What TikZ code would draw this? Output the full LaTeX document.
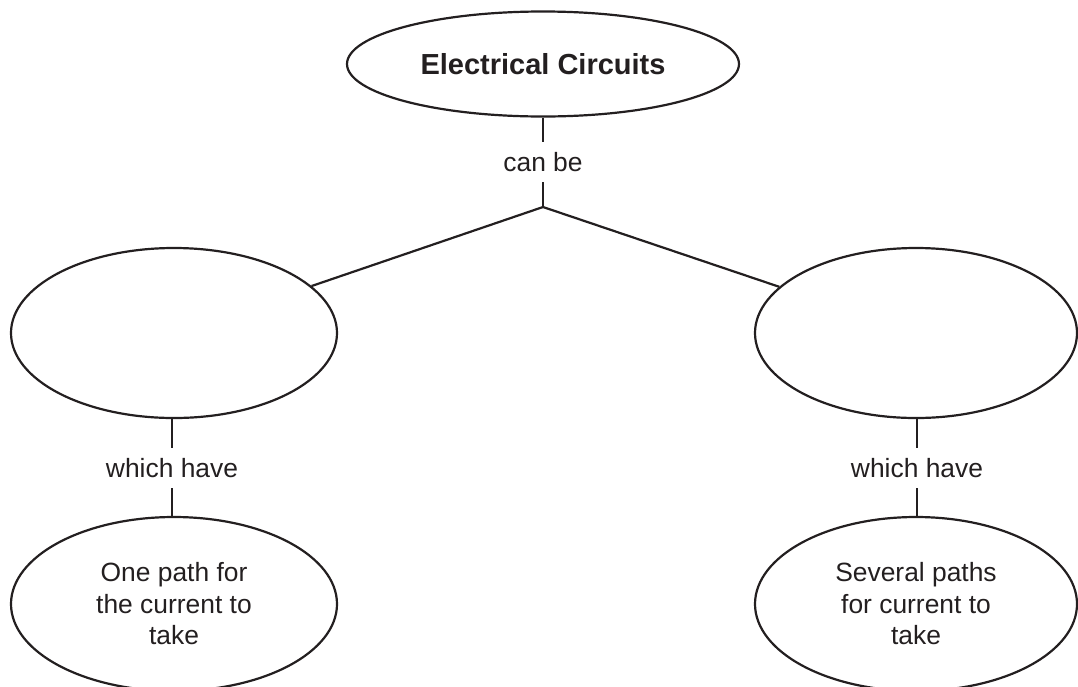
\documentclass[tikz,border=0pt]{standalone}
\usepackage{fontspec}
\setmainfont{Liberation Sans}
\usetikzlibrary{shapes.geometric}
\definecolor{ink}{RGB}{35,31,32}
\begin{document}
\begin{tikzpicture}[x=1pt,y=-1pt,
  bubble/.style={ellipse,draw=ink,line width=2.2pt,inner sep=0pt,
    minimum width=326pt,minimum height=170pt,align=center,text=ink,
    font=\fontsize{26.4}{31.5}\selectfont},
  linklabel/.style={rectangle,inner sep=0pt,minimum height=40pt,text=ink,
    font=\fontsize{26.4}{31.5}\selectfont},
  conn/.style={draw=ink,line width=2.2pt}]
\useasboundingbox (0,0) rectangle (1078,686);
\clip (0,0) rectangle (1078,686);
\node[bubble,minimum width=392pt,minimum height=105pt,
  font=\fontsize{29}{34}\selectfont\bfseries] (top) at (543,64) {Electrical Circuits};
\node[linklabel] (canbe) at (543,162) {can be};
\coordinate (branch) at (543,207);
\node[bubble] (l1) at (174,333) {};
\node[bubble,minimum width=322pt] (r1) at (916,333) {};
\node[linklabel] (whl) at (172,468) {which have};
\node[linklabel] (whr) at (917,468) {which have};
\node[bubble,minimum height=174pt] (l2) at (174,604) {One path for\\the current to\\take};
\node[bubble,minimum width=322pt,minimum height=174pt] (r2) at (916,604) {Several paths\\for current to\\take};
\draw[conn] (top.south) -- (canbe.north);
\draw[conn] (canbe.south) -- (branch);
\draw[conn] (branch) -- (l1);
\draw[conn] (branch) -- (r1);
\draw[conn] (l1.south -| whl) -- (whl.north);
\draw[conn] (whl.south) -- (l2.north -| whl);
\draw[conn] (r1.south -| whr) -- (whr.north);
\draw[conn] (whr.south) -- (r2.north -| whr);
\end{tikzpicture}
\end{document}
